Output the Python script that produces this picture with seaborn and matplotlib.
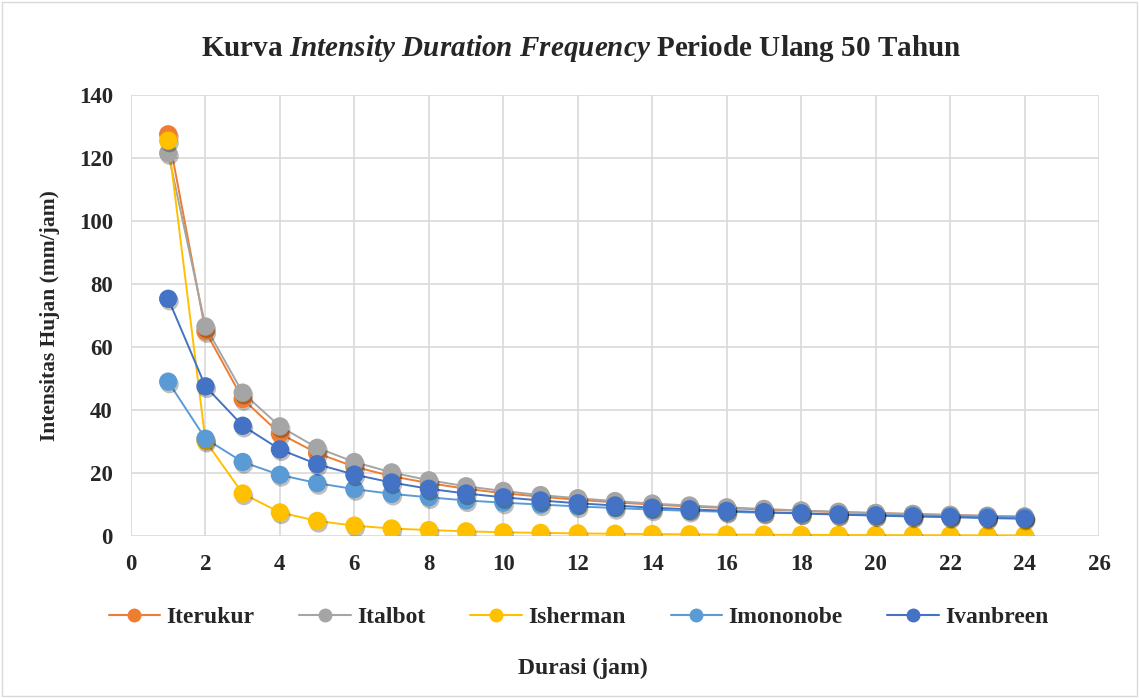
import numpy as np
import pandas as pd
import matplotlib
matplotlib.use("Agg")
import matplotlib.pyplot as plt
import matplotlib.patheffects as pe
from matplotlib.lines import Line2D
import seaborn as sns

# ==========================================
# DATA
# ==========================================
durasi = list(range(1, 25))

iterukur = [127.5, 65.0, 43.5, 32.5, 26.3, 22.0, 19.0, 16.8, 15.0, 13.6, 12.5, 11.5,
            10.7, 10.0, 9.4, 8.9, 8.4, 8.0, 7.6, 7.3, 7.0, 6.7, 6.4, 6.2]
italbot = [121.5, 66.5, 45.5, 34.8, 28.0, 23.5, 20.2, 17.7, 15.8, 14.3, 13.0, 12.0,
           11.1, 10.3, 9.7, 9.1, 8.6, 8.1, 7.7, 7.3, 7.0, 6.7, 6.4, 6.1]
isherman = [125.5, 30.2, 13.5, 7.5, 4.8, 3.3, 2.4, 1.9, 1.5, 1.2, 1.0, 0.85,
            0.73, 0.63, 0.55, 0.48, 0.43, 0.38, 0.34, 0.31, 0.28, 0.26, 0.24, 0.22]
imononobe = [49.0, 30.9, 23.5, 19.4, 16.8, 14.9, 13.4, 12.3, 11.3, 10.6, 10.0, 9.4,
             8.9, 8.4, 8.0, 7.7, 7.4, 7.2, 6.9, 6.7, 6.5, 6.3, 6.1, 5.9]
ivanbreen = [75.3, 47.5, 35.0, 27.5, 22.8, 19.5, 17.0, 15.0, 13.5, 12.3, 11.3, 10.4,
             9.7, 9.0, 8.5, 8.0, 7.6, 7.2, 6.8, 6.5, 6.2, 6.0, 5.7, 5.5]

series_names = ["Iterukur", "Italbot", "Isherman", "Imononobe", "Ivanbreen"]
series_values = [iterukur, italbot, isherman, imononobe, ivanbreen]
colors = ["#ED7D31", "#A5A5A5", "#FFC000", "#5B9BD5", "#4472C4"]

df = pd.DataFrame({
    "durasi": durasi * len(series_names),
    "intensitas": np.concatenate(series_values),
    "metode": np.repeat(series_names, len(durasi)),
})

# ==========================================
# STYLE
# ==========================================
sns.set_style("white")
plt.rcParams["font.family"] = ["Liberation Serif", "DejaVu Serif"]
plt.rcParams["font.weight"] = "bold"
plt.rcParams["mathtext.fontset"] = "custom"
plt.rcParams["mathtext.rm"] = "Liberation Serif:bold"
plt.rcParams["mathtext.it"] = "Liberation Serif:italic:bold"

fig = plt.figure(figsize=(11.39, 6.98), dpi=100)
ax = fig.add_axes([0.115, 0.232, 0.85, 0.632])

# lines first, then the round markers (with a soft drop shadow) on top
sns.lineplot(data=df, x="durasi", y="intensitas", hue="metode",
             hue_order=series_names, palette=colors, linewidth=1.4,
             legend=False, ax=ax)
for name, vals, c in zip(series_names, series_values, colors):
    sns.scatterplot(x=durasi, y=vals, color=c, s=175, linewidth=0,
                    legend=False, ax=ax, zorder=3)

shadow = [pe.SimplePatchShadow(offset=(1, -1.8), alpha=0.25, shadow_rgbFace="black"),
          pe.Normal()]
for coll in ax.collections:
    coll.set_path_effects(shadow)

ax.set_xlim(0, 26)
ax.set_ylim(0, 140)
ax.set_xticks(range(0, 27, 2))
ax.set_yticks(range(0, 141, 20))
ax.grid(True, color="#D9D9D9", linewidth=1.2)
ax.set_axisbelow(True)
for s in ax.spines.values():
    s.set_visible(False)
ax.tick_params(axis="both", length=0, labelsize=16.5, pad=13)
for lbl in ax.get_xticklabels() + ax.get_yticklabels():
    lbl.set_fontweight("bold")

ax.set_xlabel("")
ax.set_ylabel("Intensitas Hujan (mm/jam)", fontsize=15.5, fontweight="bold")
ax.yaxis.set_label_coords(-0.073, 0.5)

fig.text(0.51, 0.931,
         r"Kurva $\mathit{Intensity\ Duration\ Frequency}$ Periode Ulang 50 Tahun",
         ha="center", va="center", fontsize=21, fontweight="bold")

fig.text(0.512, 0.043, "Durasi (jam)", ha="center", va="center",
         fontsize=17, fontweight="bold")

handles = [Line2D([0], [0], color=c, marker="o", markersize=9, linewidth=1.5)
           for c in colors]
fig.legend(handles, series_names, loc="center", bbox_to_anchor=(0.508, 0.116),
           ncol=5, frameon=False,
           prop={"family": "Liberation Serif", "weight": "bold", "size": 17},
           columnspacing=1.9, handlelength=2.2, handletextpad=0.25)

# light border around the figure, as in the source chart
fig.patches.append(plt.Rectangle((0.002, 0.003), 0.996, 0.994, transform=fig.transFigure,
                                 fill=False, edgecolor="#D9D9D9", linewidth=1))

fig.savefig("out.png", dpi=100)
plt.close(fig)
